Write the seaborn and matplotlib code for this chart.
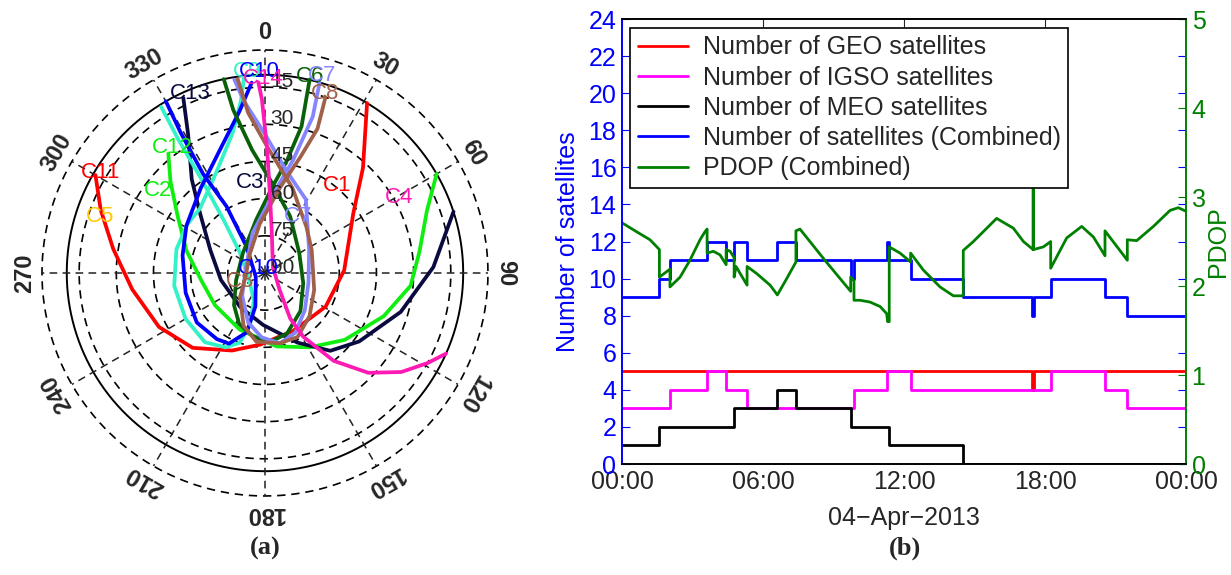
import numpy as np
import matplotlib
matplotlib.use("Agg")
import matplotlib.pyplot as plt
import seaborn as sns

sns.set_style("white")
plt.rcParams["font.family"] = ["Liberation Sans", "DejaVu Sans"]

# --- (a) sky plot: azimuth (deg) / elevation (deg) ---
c11_az = [300, 291, 279, 263, 243, 224, 203, 184, 154, 119, 88, 56, 43, 31]
c11_el = [11, 19, 28, 36, 42, 48, 56, 61, 64, 62, 58, 47, 32, 10]

c12_az = [321, 314, 303, 286, 264, 237, 204, 171, 149, 130, 110, 95, 82, 69, 60]
c12_el = [28, 37, 48, 57, 64, 66, 65, 60, 55, 48, 39, 31, 27, 20, 10]

c13_az = [335, 331, 322, 313, 293, 261, 216, 182, 155, 140, 126, 106, 88, 72]
c13_el = [12, 26, 42, 54, 66, 72, 73, 69, 59, 49, 43, 33, 22, 10]

c9_az = [328, 327, 326, 322, 309, 245, 202, 196, 200, 208, 221, 240, 262, 285,
         302, 315, 334, 347, 352, 354]
c9_el = [11, 26, 43, 63, 77, 83, 78, 68, 60, 56, 53, 53, 53, 53, 53, 53, 45, 32, 20, 10]

c10_az = [330, 329, 328, 330, 325, 248, 196, 197, 207, 216, 234, 256, 282, 301,
          323, 340, 351, 356]
c10_el = [10, 24, 43, 59, 77, 86, 76, 65, 58, 57, 56, 57, 56, 53, 47, 37, 24, 13]

c6_az = [13, 14, 11, 5, 351, 312, 256, 224, 207, 191, 176, 160, 137, 105, 60, 24,
         5, 354, 349, 348]
c6_el = [10, 29, 44, 55, 68, 78, 78, 72, 67, 64, 62, 64, 69, 74, 74, 65, 54, 40, 23, 10]

c7_az = [16, 17, 14, 6, 343, 287, 225, 199, 183, 168, 153, 133, 103, 63, 29, 12,
         0, 353, 351]
c7_el = [10, 24, 43, 58, 73, 82, 77, 69, 64, 61, 63, 68, 72, 70, 56, 48, 34, 20, 11]

c8_az = [19, 20, 17, 10, 354, 323, 259, 226, 202, 187, 168, 153, 134, 109, 64, 42,
         18, 1, 354, 352]
c8_el = [15, 28, 41, 55, 70, 80, 82, 76, 67, 62, 61, 61, 65, 69, 69, 65, 54, 39, 25, 11]

c14_az = [358, 359, 1, 4, 10, 53, 139, 151, 149, 142, 134, 126, 119, 114]
c14_el = [13, 20, 40, 60, 74, 86, 81, 69, 60, 45, 32, 22, 15, 10]

track_az = [c11_az, c12_az, c13_az, c9_az, c10_az, c6_az, c7_az, c8_az, c14_az]
track_el = [c11_el, c12_el, c13_el, c9_el, c10_el, c6_el, c7_el, c8_el, c14_el]
track_col = ["#ff0000", "#10ee10", "#0a0a40", "#33f2c8", "#0000ff", "#086008",
             "#8585ff", "#a0604a", "#ff1ab4"]

lbl_txt = ["C11", "C5", "C2", "C12", "C13", "C9", "C10", "C14", "C6", "C7", "C8",
           "C1", "C3", "C4", "C7", "C10", "C8"]
lbl_az = [301.5, 289, 307.5, 323.5, 337.5, 355, 358.5, 359.5, 13, 16, 18.5,
          39.5, 350.5, 60.5, 30, 305, 250]
lbl_el = [12, 19.5, 35.5, 27, 11.5, 8.5, 8.5, 11.5, 8.5, 7, 13.5, 44, 53, 28,
          63.5, 86.5, 79.5]
lbl_col = ["#ff0000", "#ffc800", "#10ee10", "#10ee10", "#0a0a40", "#33f2c8",
           "#0000ff", "#ff1ab4", "#086008", "#8585ff", "#a0604a", "#ff0000",
           "#0a0a40", "#ff1ab4", "#8585ff", "#0000ff", "#a0604a"]

ring_el = [0, 15, 30, 45, 60, 75]
mask_el = 10
az_ticks = list(range(0, 360, 30))

# --- (b) satellite counts (step series, hours of 04-Apr-2013) ---
geo_t = [0, 17.45, 17.55, 24]
geo_n = [5, 4, 5, 5]
igso_t = [0, 2.04, 3.62, 4.43, 5.32, 9.87, 11.26, 12.28, 18.24, 20.55, 21.5, 24]
igso_n = [3, 4, 5, 4, 3, 4, 5, 4, 5, 4, 3, 3]
meo_t = [0, 1.59, 4.77, 6.61, 7.4, 9.73, 11.37, 14.52, 24]
meo_n = [1, 2, 3, 4, 3, 2, 1, 0, 0]
comb_t = [0, 1.59, 2.04, 3.62, 4.43, 4.77, 5.32, 6.61, 7.4, 9.73, 9.87, 11.26,
          11.37, 12.28, 14.52, 17.45, 17.55, 18.24, 20.55, 21.5, 24]
comb_n = [9, 10, 11, 12, 11, 12, 11, 12, 11, 10, 11, 12, 11, 10, 9, 8, 9, 10, 9, 8, 8]

pdop_t = [0, 0.62, 1.19, 1.59, 1.59, 2.04, 2.04, 2.47, 2.89, 3.32, 3.53, 3.62,
          3.62, 3.89, 4.17, 4.43, 4.43, 4.6, 4.77, 4.77, 4.85, 5.32, 5.32, 5.73,
          6.3, 6.61, 7.0, 7.4, 7.4, 7.57, 8.6, 9.73, 9.73, 9.87, 9.87, 10.13,
          10.55, 10.98, 11.26, 11.3, 11.37, 11.37, 11.83, 12.28, 12.28, 12.82,
          13.53, 14.1, 14.52, 14.52, 14.95, 15.94, 16.65, 17.08, 17.49, 17.49,
          17.51, 17.51, 17.93, 18.24, 18.24, 18.92, 19.56, 20.06, 20.55, 20.55,
          21.5, 21.5, 21.9, 22.61, 23.32, 23.67, 24.0]
pdop_v = [2.71, 2.61, 2.52, 2.41, 2.10, 2.19, 1.99, 2.10, 2.29, 2.52, 2.61, 2.64,
          2.37, 2.39, 2.35, 2.24, 2.41, 2.39, 2.32, 2.10, 2.22, 2.01, 2.22, 2.14,
          2.01, 1.90, 2.08, 2.27, 2.62, 2.64, 2.30, 1.94, 2.10, 2.06, 1.84, 1.84,
          1.82, 1.77, 1.69, 1.60, 1.60, 2.44, 2.37, 2.27, 2.37, 2.18,
          1.99, 1.89, 1.89, 2.40, 2.50, 2.76, 2.65, 2.50, 2.41, 3.60,
          3.60, 2.41, 2.44, 2.50, 2.20, 2.54, 2.67, 2.55, 2.34, 2.62,
          2.29, 2.52, 2.51, 2.67, 2.85, 2.88, 2.84]

hour_ticks = [0, 6, 12, 18, 24]
hour_labels = ["00:00", "06:00", "12:00", "18:00", "00:00"]

fig = plt.figure(figsize=(12.31, 5.75), dpi=100)

# ---------------- (a) ----------------
axp = fig.add_axes([0.0341, 0.1374, 0.3623, 0.7757], projection="polar")
axp.set_theta_zero_location("N")
axp.set_theta_direction(-1)
axp.set_rlim(0, 90)
axp.grid(False)
axp.set_xticks([])
axp.set_yticks([])
axp.spines["polar"].set_visible(False)

th = np.linspace(0, 2 * np.pi, 361)
for e in ring_el:
    axp.plot(th, np.full_like(th, 90 - e), color="k", lw=1.2, ls=(0, (5, 3.5)),
             clip_on=False)
axp.plot(th, np.full_like(th, 90 - mask_el), color="k", lw=1.4)
for a in az_ticks:
    axp.plot([np.radians(a)] * 2, [0, 90], color="#222222", lw=1.1, ls=(0, (5, 3.5)))
    axp.text(np.radians(a), 97, str(a), rotation=-a, ha="center", va="center",
             fontsize=17, fontweight="bold")
for e in ring_el[1:] + [90]:
    axp.annotate(str(e), xy=(0, 90 - e), xytext=(4, 4), textcoords="offset points",
                 ha="left", va="center", fontsize=15)

for az, el, c in zip(track_az, track_el, track_col):
    axp.plot(np.radians(az), 90 - np.array(el), color=c, lw=2.7)

for t, az, el, c in zip(lbl_txt, lbl_az, lbl_el, lbl_col):
    axp.text(np.radians(az), 90 - el, t, color=c, fontsize=16, ha="center",
             va="center", zorder=5)

# ---------------- (b) ----------------
ax1 = fig.add_axes([0.5053, 0.1930, 0.4582, 0.7739])
ax2 = ax1.twinx()

step_kw = dict(drawstyle="steps-post", estimator=None, sort=False, lw=2, ax=ax1)
sns.lineplot(x=geo_t, y=geo_n, color="#ff0000", label="Number of GEO satellites", **step_kw)
sns.lineplot(x=igso_t, y=igso_n, color="#ff00ff", label="Number of IGSO satellites", **step_kw)
sns.lineplot(x=meo_t, y=meo_n, color="#000000", label="Number of MEO satellites", **step_kw)
sns.lineplot(x=comb_t, y=comb_n, color="#0000ff",
             label="Number of satellites (Combined)", **step_kw)
sns.lineplot(x=pdop_t, y=pdop_v, color="#008000", lw=2, estimator=None, sort=False,
             label="PDOP (Combined)", ax=ax2)

h1, l1 = ax1.get_legend_handles_labels()
h2, l2 = ax2.get_legend_handles_labels()
for a in (ax1, ax2):
    if a.get_legend() is not None:
        a.get_legend().remove()

ax1.set_xlim(0, 24)
ax1.set_ylim(0, 24)
ax2.set_ylim(0, 5)
ax1.set_yticks(range(0, 25, 2))
ax2.set_yticks(range(0, 6))
ax1.set_xticks(hour_ticks)
ax1.set_xticklabels(hour_labels)
ax1.tick_params(axis="x", direction="in", top=True, length=6, labelsize=18, pad=4)
ax1.tick_params(axis="y", direction="in", right=True, length=6, colors="blue",
                labelsize=18, pad=4)
ax2.tick_params(axis="y", direction="in", length=6, colors="green", labelsize=18, pad=4)

ax1.set_xlabel("04\u2212Apr\u22122013", fontsize=18, labelpad=9)
ax1.set_ylabel("Number of satellites", fontsize=18, color="blue", labelpad=6)
ax2.set_ylabel("PDOP", fontsize=18, color="green", labelpad=0)

for a in (ax1, ax2):
    a.spines["left"].set_color("blue")
    a.spines["right"].set_color("green")
    a.spines["top"].set_color("black")
    a.spines["bottom"].set_color("black")
    for s in a.spines.values():
        s.set_linewidth(1.2)

leg = ax2.legend(h1 + h2, l1 + l2, loc="upper left", bbox_to_anchor=(0.0142, 0.98),
                 frameon=True, fancybox=False, edgecolor="black", framealpha=1,
                 fontsize=18, handlelength=2.0, labelspacing=0.25, borderpad=0.3,
                 handletextpad=0.6, borderaxespad=0)
leg.get_frame().set_linewidth(1.2)

fig.text(265 / 1231, 1 - 548 / 575, "(a)", ha="center", va="center",
         fontfamily="Liberation Serif", fontweight="bold", fontsize=19)
fig.text(905 / 1231, 1 - 548 / 575, "(b)", ha="center", va="center",
         fontfamily="Liberation Serif", fontweight="bold", fontsize=19)

fig.savefig("out.png", dpi=100)
